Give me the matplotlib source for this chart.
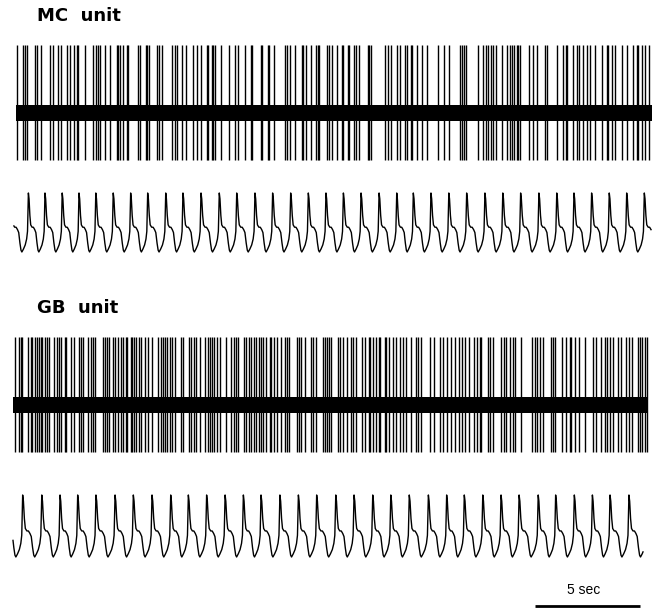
import matplotlib
matplotlib.use("Agg")
import matplotlib.pyplot as plt
import numpy as np

# ---------------- data (seconds) ----------------
mc_duration = 30.29
gb_duration = 30.24

mc_spike_times = [
    0.06, 0.35, 0.44, 0.51, 0.90, 1.01, 1.18, 1.62, 1.78, 2.01, 2.13, 2.41, 2.57, 2.76, 2.89, 2.97,
    3.29, 3.68, 3.81, 3.92, 4.00, 4.24, 4.48, 4.80, 4.87, 4.95, 5.11, 5.27, 5.35, 5.82, 5.90, 6.19,
    6.25, 6.35, 6.70, 6.82, 6.94, 7.41, 7.57, 7.65, 7.89, 8.10, 8.41, 8.60, 8.80, 9.08, 9.16, 9.32,
    9.40, 9.48, 9.75, 10.14, 10.43, 10.59, 10.90, 11.19, 11.25, 11.67, 11.73, 11.99, 12.05, 12.30,
    12.81, 12.89, 13.05, 13.29, 13.60, 13.68, 13.81, 14.05, 14.27, 14.37, 14.43, 14.80, 14.90, 15.06,
    15.27, 15.51, 15.59, 15.80, 15.86, 16.11, 16.18, 16.33, 16.75, 16.81, 16.90, 17.57, 17.73, 17.86,
    18.13, 18.29, 18.52, 18.60, 18.81, 18.87, 19.08, 19.32, 19.56, 20.11, 20.38, 20.63, 21.14, 21.22,
    21.33, 21.43, 22.01, 22.22, 22.38, 22.49, 22.60, 22.70, 22.86, 23.13, 23.37, 23.52, 23.60, 23.71,
    23.84, 23.92, 24.00, 24.44, 24.60, 24.80, 25.19, 25.27, 25.78, 26.06, 26.19, 26.25, 26.54, 26.73,
    26.82, 27.01, 27.18, 27.33, 27.57, 27.89, 28.13, 28.20, 28.37, 28.52, 28.84, 29.08, 29.40, 29.56,
    29.63, 29.80, 29.95, 30.16,
]

gb_spike_times = [
    0.11, 0.27, 0.37, 0.43, 0.71, 0.84, 0.90, 1.03, 1.16, 1.22, 1.32, 1.38, 1.51, 1.63, 1.70, 1.95,
    2.11, 2.18, 2.30, 2.46, 2.54, 2.78, 2.90, 3.13, 3.22, 3.33, 3.57, 3.70, 3.81, 3.89, 4.29, 4.40,
    4.49, 4.56, 4.76, 4.87, 5.00, 5.16, 5.24, 5.40, 5.44, 5.60, 5.67, 5.76, 5.87, 5.99, 6.08, 6.27,
    6.43, 6.62, 6.90, 7.03, 7.14, 7.22, 7.35, 7.46, 7.57, 7.70, 7.99, 8.10, 8.37, 8.46, 8.62, 8.73,
    8.89, 9.13, 9.29, 9.37, 9.48, 9.57, 9.73, 9.84, 10.16, 10.40, 10.51, 10.60, 10.71, 10.99, 11.11,
    11.24, 11.35, 11.46, 11.59, 11.71, 11.82, 11.90, 12.06, 12.22, 12.30, 12.41, 12.57, 12.78, 12.94,
    13.05, 13.14, 13.52, 13.62, 13.73, 13.89, 14.20, 14.29, 14.41, 14.76, 14.84, 14.95, 15.05, 15.16,
    15.48, 15.56, 15.71, 15.90, 16.11, 16.19, 16.35, 16.63, 16.75, 16.95, 17.01, 17.14, 17.30, 17.43,
    17.49, 17.70, 17.78, 17.90, 18.10, 18.22, 18.41, 18.57, 18.70, 18.97, 19.18, 19.29, 19.44, 19.84,
    20.03, 20.32, 20.48, 20.68, 20.84, 21.06, 21.22, 21.38, 21.54, 21.70, 21.95, 22.11, 22.22, 22.30,
    22.62, 22.70, 22.86, 23.22, 23.38, 23.49, 23.65, 23.81, 23.92, 24.18, 24.71, 24.84, 24.97, 25.08,
    25.24, 25.60, 25.71, 25.82, 26.14, 26.35, 26.51, 26.59, 26.78, 26.94, 27.22, 27.62, 27.78, 28.01,
    28.18, 28.30, 28.41, 28.57, 28.81, 28.94, 29.20, 29.32, 29.48, 29.76, 29.84, 29.95, 30.08, 30.20,
]

mc_resp_peaks = [
    0.59, 1.38, 2.20, 3.00, 3.80, 4.63, 5.46, 6.27, 7.13, 7.95, 8.81, 9.68, 10.51, 11.38, 12.22,
    13.08, 13.92, 14.76, 15.59, 16.43, 17.29, 18.13, 18.92, 19.76, 20.61, 21.46, 22.33, 23.18, 24.03,
    24.90, 25.75, 26.57, 27.41, 28.25, 29.08, 29.92,
]
gb_resp_peaks = [
    0.46, 1.37, 2.24, 3.08, 3.95, 4.86, 5.73, 6.62, 7.51, 8.35, 9.22, 10.10, 10.97, 11.81, 12.71,
    13.59, 14.46, 15.37, 16.24, 17.13, 17.99, 18.87, 19.78, 20.65, 21.49, 22.37, 23.24, 24.10, 25.01,
    25.84, 26.73, 27.59, 28.43, 29.33,
]
mc_resp_range = (-0.10, 30.24)
gb_resp_range = (0.00, 30.00)

# one respiratory cycle (peak to next peak)
cycle_phase = [0.0, 0.04, 0.09, 0.14, 0.22, 0.30, 0.38, 0.45, 0.52, 0.58, 0.63, 0.72, 0.82, 0.90, 0.95, 0.98, 1.0]
cycle_value = [1.0, 0.90, 0.62, 0.46, 0.42, 0.42, 0.38, 0.33, 0.15, 0.03, 0.0, 0.05, 0.12, 0.22, 0.35, 0.70, 1.0]

spike_up = 68
spike_down = -47
noise_halfwidth = 8
scale_bar_sec = 5

# ---------------- figure ----------------
W, H = 662, 611
fig = plt.figure(figsize=(W / 100, H / 100), dpi=100)
fig.patch.set_facecolor("white")


def add_ax(y_top, y_bot, xlim, ylim):
    ax = fig.add_axes([0, 1 - y_bot / H, 1, (y_bot - y_top) / H])
    ax.set_xlim(xlim)
    ax.set_ylim(ylim)
    ax.axis("off")
    return ax


def spike_panel(ax, times, duration):
    ax.fill_between([0, duration], -noise_halfwidth, noise_halfwidth, color="black", lw=0)
    ax.vlines(times, spike_down, spike_up, color="black", lw=1.0)


def resp_panel(ax, peaks, trange):
    p = list(peaks)
    T = np.mean(np.diff(p))
    p = [p[0] - T] + p + [p[-1] + T]
    ph = np.array(cycle_phase)
    vals = np.array(cycle_value)
    tt, vv = [], []
    for a, b in zip(p[:-1], p[1:]):
        tt.extend(a + ph[:-1] * (b - a))
        vv.extend(vals[:-1])
    tt = np.array(tt)
    vv = np.array(vv)
    t0, t1 = trange
    mask = (tt > t0) & (tt < t1)
    t_plot = np.concatenate([[t0], tt[mask], [t1]])
    v_plot = np.concatenate([[np.interp(t0, tt, vv)], vv[mask], [np.interp(t1, tt, vv)]])
    ax.plot(t_plot, v_plot, color="black", lw=1.0)


mc_xlim = (-16 / 21, (W - 16) / 21)
gb_xlim = (-13 / 21, (W - 13) / 21)

ax1 = add_ax(30, 175, mc_xlim, (-62, 83))
spike_panel(ax1, mc_spike_times, mc_duration)

ax2 = add_ax(185, 260, mc_xlim, (-8 / 59, 1 + 8 / 59))
resp_panel(ax2, mc_resp_peaks, mc_resp_range)

ax3 = add_ax(325, 470, gb_xlim, (-65, 80))
spike_panel(ax3, gb_spike_times, gb_duration)

ax4 = add_ax(485, 565, gb_xlim, (-8 / 62, 1 + 10 / 62))
resp_panel(ax4, gb_resp_peaks, gb_resp_range)

ax5 = add_ax(575, 611, gb_xlim, (0, 36))
bar_start = 24.86
ax5.plot([bar_start, bar_start + scale_bar_sec], [5, 5], color="black", lw=2, solid_capstyle="butt")
ax5.text(bar_start + scale_bar_sec / 2 - 0.2, 21, f"{scale_bar_sec} sec", ha="center", va="center",
         fontsize=10, family="Liberation Sans")

fig.text(37 / W, 1 - 16 / H, "MC  unit", fontsize=13, fontweight="bold", family="DejaVu Sans",
         ha="left", va="center")
fig.text(37 / W, 1 - 308 / H, "GB  unit", fontsize=13, fontweight="bold", family="DejaVu Sans",
         ha="left", va="center")

fig.savefig("out.png", dpi=100, facecolor="white")
